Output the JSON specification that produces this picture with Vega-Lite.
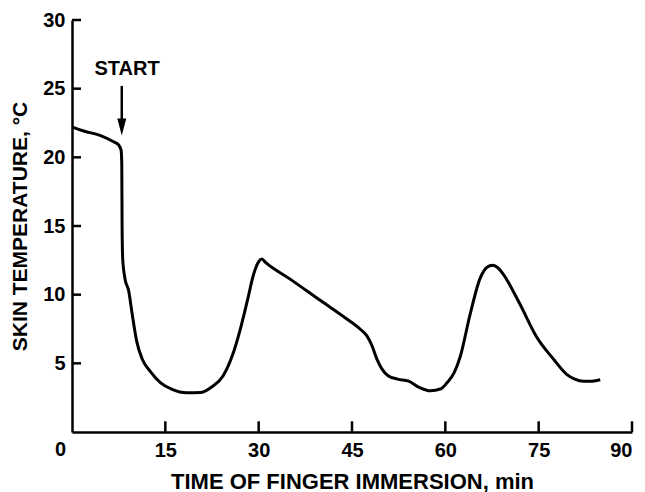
{
  "$schema": "https://vega.github.io/schema/vega-lite/v6.json",
  "width": 560,
  "height": 412,
  "autosize": "none",
  "padding": {"left": 72, "top": 20, "right": 13, "bottom": 60},
  "background": "white",
  "config": {"view": {"stroke": null}, "font": "Liberation Sans"},
  "encoding": {
    "x": {"field": "t", "type": "quantitative", "scale": {"domain": [0, 90], "nice": false}},
    "y": {"field": "T", "type": "quantitative", "scale": {"domain": [0, 30], "nice": false}}
  },
  "layer": [
    {
      "data": {"values": [
        {"t": 0, "T": 22.2}, {"t": 2, "T": 21.9}, {"t": 4.5, "T": 21.6}, {"t": 6.6, "T": 21.15},
        {"t": 7.5, "T": 20.9}, {"t": 7.9, "T": 20.5}, {"t": 8.0, "T": 19.5}, {"t": 8.05, "T": 15},
        {"t": 8.15, "T": 12.6}, {"t": 8.5, "T": 11.2}, {"t": 9.1, "T": 10.3}, {"t": 9.7, "T": 8.5},
        {"t": 10.4, "T": 6.6}, {"t": 11.3, "T": 5.3}, {"t": 12.6, "T": 4.4}, {"t": 14.2, "T": 3.6},
        {"t": 16.1, "T": 3.1}, {"t": 18.4, "T": 2.85}, {"t": 20.6, "T": 2.87}, {"t": 22.5, "T": 3.3},
        {"t": 24.3, "T": 4.1}, {"t": 25.8, "T": 5.6}, {"t": 27.0, "T": 7.4}, {"t": 28.2, "T": 9.6},
        {"t": 29.2, "T": 11.5}, {"t": 30.0, "T": 12.4}, {"t": 30.5, "T": 12.6}, {"t": 31.1, "T": 12.35},
        {"t": 35, "T": 11.15}, {"t": 40, "T": 9.55}, {"t": 44, "T": 8.28},
        {"t": 46.3, "T": 7.5}, {"t": 47.4, "T": 7.0}, {"t": 48.2, "T": 6.3}, {"t": 49.0, "T": 5.3},
        {"t": 49.8, "T": 4.6}, {"t": 50.8, "T": 4.1}, {"t": 52.3, "T": 3.85}, {"t": 54.1, "T": 3.7},
        {"t": 55.8, "T": 3.25}, {"t": 57.6, "T": 3.0}, {"t": 59.3, "T": 3.15}, {"t": 60.3, "T": 3.6},
        {"t": 61.4, "T": 4.3}, {"t": 62.4, "T": 5.5}, {"t": 64.0, "T": 8.6}, {"t": 65.6, "T": 11.2},
        {"t": 66.7, "T": 12.0}, {"t": 67.6, "T": 12.15}, {"t": 68.6, "T": 11.9}, {"t": 69.3, "T": 11.5},
        {"t": 72.0, "T": 9.3}, {"t": 74.7, "T": 6.9}, {"t": 77.4, "T": 5.3}, {"t": 79.5, "T": 4.2},
        {"t": 80.8, "T": 3.85}, {"t": 82.2, "T": 3.7}, {"t": 83.6, "T": 3.7}, {"t": 84.9, "T": 3.8}
      ]},
      "mark": {"type": "line", "interpolate": "monotone", "color": "black", "strokeWidth": 3},
      "encoding": {
        "x": {
          "field": "t", "type": "quantitative",
          "axis": {
            "values": [15, 30, 45, 60, 75, 90],
            "title": "TIME OF FINGER IMMERSION, min",
            "titleFontSize": 22, "titleFontWeight": "bold", "titleColor": "black", "titlePadding": 11,
            "labelFontSize": 20, "labelFontWeight": "bold", "labelColor": "black",
            "labelPadding": 8,
            "domainColor": "black", "domainWidth": 2.5,
            "ticks": true, "tickSize": 0, "tickWidth": 0,
            "grid": false
          }
        },
        "y": {
          "field": "T", "type": "quantitative",
          "axis": {
            "values": [5, 10, 15, 20, 25, 30],
            "title": "SKIN TEMPERATURE, °C",
            "titleFontSize": 21, "titleFontWeight": "bold", "titleColor": "black", "titlePadding": 12,
            "labelFontSize": 20, "labelFontWeight": "bold", "labelColor": "black",
            "labelPadding": 7,
            "domainColor": "black", "domainWidth": 2.5,
            "ticks": true, "tickSize": 0, "tickWidth": 0,
            "grid": false
          }
        }
      }
    },
    {
      "data": {"values": [{"t": 15, "T": 0, "T2": 0.78}, {"t": 30, "T": 0, "T2": 0.78}, {"t": 45, "T": 0, "T2": 0.78}, {"t": 60, "T": 0, "T2": 0.78}, {"t": 75, "T": 0, "T2": 0.78}, {"t": 90, "T": 0, "T2": 0.78}]},
      "mark": {"type": "rule", "color": "black", "strokeWidth": 2.5},
      "encoding": {
        "x": {"field": "t", "type": "quantitative"},
        "y": {"field": "T", "type": "quantitative"},
        "y2": {"field": "T2"}
      }
    },
    {
      "data": {"values": [{"t": 0, "t2": 1.45, "T": 5}, {"t": 0, "t2": 1.45, "T": 10}, {"t": 0, "t2": 1.45, "T": 15}, {"t": 0, "t2": 1.45, "T": 20}, {"t": 0, "t2": 1.45, "T": 25}, {"t": 0, "t2": 1.45, "T": 30}]},
      "mark": {"type": "rule", "color": "black", "strokeWidth": 2.5},
      "encoding": {
        "x": {"field": "t", "type": "quantitative"},
        "x2": {"field": "t2"},
        "y": {"field": "T", "type": "quantitative"}
      }
    },
    {
      "data": {"values": [{"t": 0, "T": 0, "label": "0"}]},
      "mark": {"type": "text", "fontWeight": "bold", "fontSize": 20, "color": "black", "align": "right", "baseline": "top", "dx": -6, "dy": 8},
      "encoding": {"text": {"field": "label"}}
    },
    {
      "data": {"values": [{"t": 8.85, "T": 26.4, "label": "START"}]},
      "mark": {"type": "text", "fontWeight": "bold", "fontSize": 20, "color": "black"},
      "encoding": {"text": {"field": "label"}}
    },
    {
      "data": {"values": [{"t": 8.0, "T": 25.2, "T2": 22.6}]},
      "mark": {"type": "rule", "strokeWidth": 2.5, "color": "black"},
      "encoding": {"y2": {"field": "T2"}}
    },
    {
      "data": {"values": [{"t": 8.0, "T": 22.2}]},
      "mark": {"type": "point", "filled": true, "opacity": 1, "color": "black", "shape": "M-0.53,-1L0.53,-1L0,1Z", "size": 289}
    }
  ]
}
